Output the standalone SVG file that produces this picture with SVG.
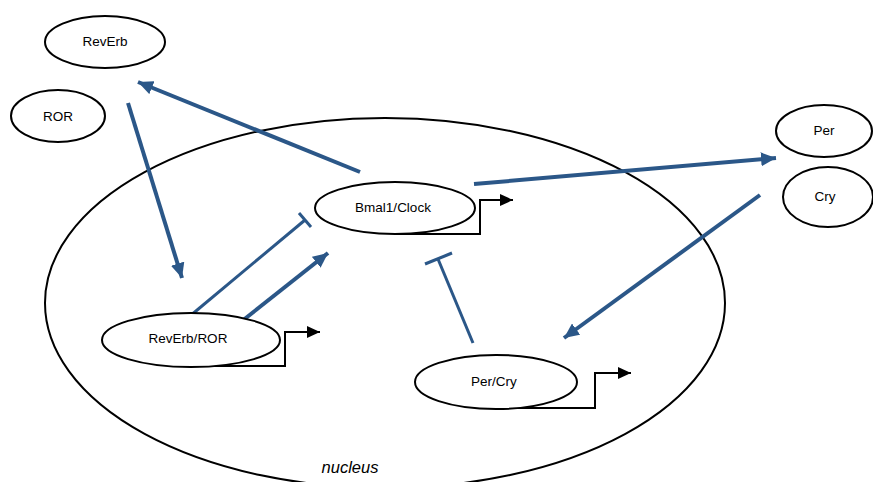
<svg xmlns="http://www.w3.org/2000/svg" width="873" height="482" viewBox="0 0 873 482">
<style>
.node{fill:#fff;stroke:#000;stroke-width:2}
.nuc{fill:none;stroke:#000;stroke-width:2}
.lbl{font-family:"Liberation Sans",Arial,sans-serif;font-size:13.5px;fill:#000;text-anchor:middle;dominant-baseline:central}
.act{stroke:#2b5788;stroke-width:4;fill:none}
.inh{stroke:#2b5788;stroke-width:3;fill:none}
.prom{stroke:#000;stroke-width:2;fill:none}
</style>
<defs>
<marker id="blue" markerUnits="userSpaceOnUse" markerWidth="16" markerHeight="14" refX="15" refY="7" orient="auto">
<path d="M0,0 L15,7 L0,14 Z" fill="#2b5788"/>
</marker>
<marker id="black" markerUnits="userSpaceOnUse" markerWidth="14" markerHeight="12" refX="13" refY="6" orient="auto">
<path d="M0,0 L13,6 L0,12 Z" fill="#000"/>
</marker>
</defs>
<ellipse class="nuc" cx="385" cy="303" rx="340" ry="185"/>
<text x="350" y="467" style="font-family:'Liberation Sans',Arial,sans-serif;font-size:16.5px;font-style:italic;text-anchor:middle;dominant-baseline:central">nucleus</text>
<g id="connectors">
<line class="act" x1="360" y1="172" x2="138" y2="82" marker-end="url(#blue)"/>
<line class="act" x1="128" y1="103" x2="182" y2="278" marker-end="url(#blue)"/>
<line class="act" x1="474" y1="184" x2="776" y2="158" marker-end="url(#blue)"/>
<line class="act" x1="760" y1="195" x2="564" y2="338" marker-end="url(#blue)"/>
<line class="act" x1="237" y1="325" x2="328" y2="253" marker-end="url(#blue)"/>
<line class="inh" x1="190" y1="316" x2="305" y2="220"/>
<line class="inh" x1="299" y1="213" x2="311" y2="227"/>
<line class="inh" x1="473" y1="343" x2="438" y2="259"/>
<line class="inh" x1="425" y1="264" x2="452" y2="253"/>
<path class="prom" d="M395,234 H480 V200 H513" marker-end="url(#black)"/>
<path class="prom" d="M200,366 H285 V332 H320" marker-end="url(#black)"/>
<path class="prom" d="M500,408 H595 V373 H631" marker-end="url(#black)"/>
</g>
<g id="RevErb"><ellipse class="node" cx="105" cy="42" rx="60" ry="26"/><text class="lbl" x="105" y="41">RevErb</text></g>
<g id="ROR"><ellipse class="node" cx="58" cy="116" rx="47" ry="26"/><text class="lbl" x="58" y="116">ROR</text></g>
<g id="Bmal1Clock"><ellipse class="node" cx="395" cy="208" rx="80" ry="26"/><text class="lbl" x="393" y="207">Bmal1/Clock</text></g>
<g id="RevErbROR"><ellipse class="node" cx="191" cy="340" rx="89" ry="27"/><text class="lbl" x="188" y="338">RevErb/ROR</text></g>
<g id="PerCry"><ellipse class="node" cx="496" cy="382" rx="81" ry="27"/><text class="lbl" x="494" y="381">Per/Cry</text></g>
<g id="Per"><ellipse class="node" cx="824" cy="131" rx="48" ry="26"/><text class="lbl" x="824" y="130">Per</text></g>
<g id="Cry"><ellipse class="node" cx="828" cy="197" rx="45" ry="30"/><text class="lbl" x="825" y="196">Cry</text></g>
</svg>
